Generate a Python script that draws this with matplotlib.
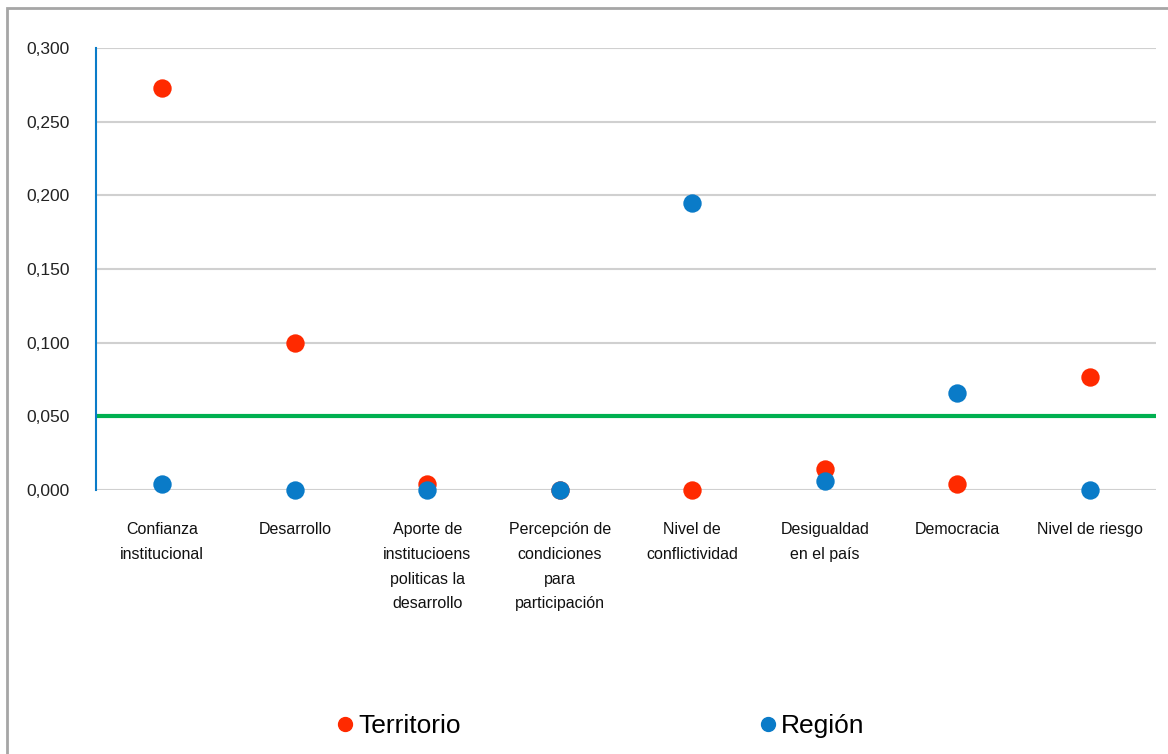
import matplotlib
matplotlib.use("Agg")
import matplotlib.pyplot as plt
from matplotlib.patches import Rectangle
from matplotlib.lines import Line2D
import numpy as np

categories = [
    "Confianza\ninstitucional",
    "Desarrollo",
    "Aporte de\ninstitucioens\npoliticas la\ndesarrollo",
    "Percepción de\ncondiciones\npara\nparticipación",
    "Nivel de\nconflictividad",
    "Desigualdad\nen el país",
    "Democracia",
    "Nivel de riesgo",
]
territorio = [0.273, 0.100, 0.004, 0.0, 0.0, 0.014, 0.004, 0.077]
region = [0.004, 0.0, 0.0, 0.0, 0.195, 0.006, 0.066, 0.0]
threshold = 0.050
yticks = [0.0, 0.05, 0.10, 0.15, 0.20, 0.25, 0.30]
ytick_labels = ["0,000", "0,050", "0,100", "0,150", "0,200", "0,250", "0,300"]

plt.rcParams['font.family'] = ['Liberation Sans', 'DejaVu Sans']

W, H = 1168, 754
fig = plt.figure(figsize=(W / 100, H / 100), dpi=100)
fig.patch.set_facecolor("white")

# outer frame
fig.patches.append(Rectangle((7 / W, -0.05), 1.2, 1 - 8 / H + 0.05, transform=fig.transFigure,
                             fill=False, edgecolor="#a6a6a6", linewidth=2))

ax = fig.add_axes([96 / W, 264 / H, 1060 / W, 442 / H])
x = np.arange(len(categories))

for y in yticks:
    ax.axhline(y, color="#d0d0d0", linewidth=1.5, zorder=1)
ax.axhline(threshold, color="#00b050", linewidth=3, zorder=2)

red = "#ff2a00"
blue = "#0a7bc8"
ax.scatter(x, territorio, s=175, color=red, zorder=3, linewidths=0, clip_on=False)
ax.scatter(x, region, s=175, color=blue, zorder=4, linewidths=0, clip_on=False)

ax.set_xlim(-0.5, len(categories) - 0.5)
ax.set_ylim(0, 0.300)
ax.set_yticks(yticks)
ax.set_yticklabels(ytick_labels, fontsize=12.5, color="#222222")
ax.set_xticks(x)
ax.set_xticklabels(categories, fontsize=11.5, linespacing=1.82, va="top", color="#111111")
ax.tick_params(axis="y", length=0, pad=19)
ax.tick_params(axis="x", length=0, pad=23)
for s in ["top", "right", "bottom"]:
    ax.spines[s].set_visible(False)
ax.spines["left"].set_color("#0a7bc8")
ax.spines["left"].set_linewidth(1.5)

# legend
handles = [Line2D([], [], marker="o", linestyle="none", color=red, markersize=10),
           Line2D([], [], marker="o", linestyle="none", color=blue, markersize=10)]
fig.legend(handles, ["Territorio", "Región"], loc="center", bbox_to_anchor=(600 / W, 1 - 726 / H),
           ncol=2, frameon=False, fontsize=19, handletextpad=0.15, columnspacing=11.3,
           handlelength=0.7)

fig.savefig("out.png", dpi=100)
